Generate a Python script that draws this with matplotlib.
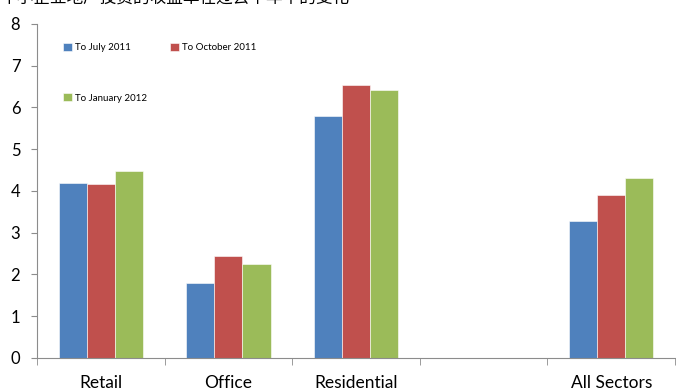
import matplotlib.pyplot as plt
import numpy as np

plt.rcParams["font.family"] = ["Lato", "Noto Sans CJK SC", "DejaVu Sans"]

categories = ["Retail", "Office", "Residential", "", "All Sectors"]
series_names = ["To July 2011", "To October 2011", "To January 2012"]
july_2011 = [4.2, 1.8, 5.8, np.nan, 3.28]
october_2011 = [4.16, 2.45, 6.55, np.nan, 3.9]
january_2012 = [4.49, 2.25, 6.42, np.nan, 4.31]
title_text = "中小企业地产投资的收益率在过去半年中的变化"

colors = ["#4F81BD", "#C0504D", "#9BBB59"]
axis_grey = "#8C8C8C"

fig = plt.figure(figsize=(6.76, 3.9), dpi=100)
ax = fig.add_axes([0.0547, 0.0821, 0.944, 0.8564])

x = np.arange(len(categories))
width = 0.22
bars = []
for i, (vals, name) in enumerate(zip([july_2011, october_2011, january_2012], series_names)):
    b = ax.bar(x + (i - 1) * width, vals, width, color=colors[i], label=name,
               edgecolor="white", linewidth=0.4)
    bars.append(b)

ax.set_xlim(-0.5, len(categories) - 0.5)
ax.set_ylim(0, 8)
ax.set_yticks(range(0, 9))
ax.tick_params(axis="y", labelsize=12, length=4, color=axis_grey, pad=8)

# category labels centred, tick marks on the boundaries between groups
ax.set_xticks(x)
ax.set_xticklabels(categories, fontsize=12.5)
ax.tick_params(axis="x", length=0, pad=12)
ax.set_xticks(np.arange(-0.5, len(categories), 1.0), minor=True)
ax.tick_params(axis="x", which="minor", length=5, color=axis_grey)

for side in ["top", "right"]:
    ax.spines[side].set_visible(False)
for side in ["left", "bottom"]:
    ax.spines[side].set_color(axis_grey)

# legend fills column by column: July/January on the left, October on the right
order = [0, 2, 1]
ax.legend([bars[k] for k in order], [series_names[k] for k in order],
          loc="upper left", bbox_to_anchor=(0.035, 0.955), ncol=2, frameon=False,
          fontsize=7, handlelength=0.9, handleheight=0.9, handletextpad=0.3,
          labelspacing=4.2, columnspacing=2.4, borderaxespad=0)

fig.text(0.0, 1.005, title_text, fontsize=12, ha="left", va="center",
         family=["Noto Sans CJK SC", "DejaVu Sans"])

fig.savefig("out.png", dpi=100)
